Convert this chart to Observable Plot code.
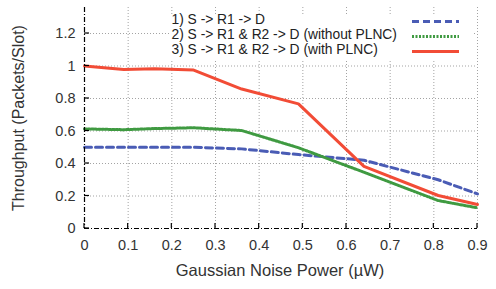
<!DOCTYPE html>
<html>
<head>
<meta charset="utf-8">
<script src="https://cdn.jsdelivr.net/npm/d3@7"></script>
<script src="https://cdn.jsdelivr.net/npm/@observablehq/plot@0.6"></script>
<style>
  html, body { margin: 0; padding: 0; background: #fff; }
  svg { font-family: "Liberation Sans", Arial, sans-serif; }
</style>
</head>
<body>
<div id="chart"></div>
<script>
const noisePower = [0, 0.09, 0.16, 0.25, 0.36, 0.49, 0.64, 0.81, 0.9];
const seriesNames = [
  "1) S -> R1 -> D",
  "2) S -> R1 & R2 -> D (without PLNC)",
  "3) S -> R1 & R2 -> D (with PLNC)"
];
const direct      = [0.5, 0.5, 0.5, 0.5, 0.49, 0.455, 0.42, 0.30, 0.213];
const withoutPLNC = [0.613, 0.608, 0.615, 0.62, 0.603, 0.497, 0.346, 0.172, 0.127];
const withPLNC    = [1.0, 0.978, 0.983, 0.975, 0.858, 0.767, 0.382, 0.203, 0.148];
const xTicks = [0, 0.1, 0.2, 0.3, 0.4, 0.5, 0.6, 0.7, 0.8, 0.9];
const yTicks = [0, 0.2, 0.4, 0.6, 0.8, 1, 1.2];

const colors = ["#4a5cb5", "#3f9a41", "#f24c36"];
const dashes = ["7,4", "2,1.5", null];

const values = [direct, withoutPLNC, withPLNC];
const rows = [];
values.forEach((arr, s) => arr.forEach((v, i) => rows.push({series: seriesNames[s], x: noisePower[i], y: v, s})));

const lineMarks = values.map((arr, s) =>
  Plot.line(rows.filter(r => r.s === s), {
    x: "x", y: "y", stroke: colors[s], strokeWidth: 3,
    strokeDasharray: dashes[s] || undefined, curve: "linear"
  })
);

const fmt = d => String(+d.toFixed(1));

const plot = Plot.plot({
  width: 496,
  height: 289,
  marginLeft: 84,
  marginRight: 19,
  marginTop: 7,
  marginBottom: 61,
  style: {fontFamily: "'Liberation Sans', Arial, sans-serif", fontSize: "14px", color: "#333", background: "#fff"},
  x: {domain: [0, 0.9]},
  y: {domain: [0, 1.36]},
  marks: [
    Plot.gridX(xTicks.slice(1), {stroke: "#999", strokeOpacity: 0.9, strokeDasharray: "1,2"}),
    Plot.gridY(yTicks.slice(1), {stroke: "#999", strokeOpacity: 0.9, strokeDasharray: "1,2"}),
    ...lineMarks,
    Plot.ruleX([0], {stroke: "#000", strokeDasharray: "5,2,1,2", strokeWidth: 1.2}),
    Plot.ruleY([0], {stroke: "#000", strokeDasharray: "5,2,1,2", strokeWidth: 1.2}),
    Plot.axisX(xTicks, {tickSize: 0, tickPadding: 11, tickFormat: fmt, label: null, fontSize: 14.5, fill: "#333"}),
    Plot.axisY(yTicks, {tickSize: 0, tickPadding: 9, tickFormat: fmt, label: null, fontSize: 14.5, fill: "#333"})
  ]
});

document.getElementById("chart").appendChild(plot);

const svg = d3.select(plot);
const sx = plot.scale("x"), sy = plot.scale("y");
const y0 = sy.apply(0), x0 = sx.apply(0);

// inward ticks
const tg = svg.append("g").attr("stroke", "#000").attr("stroke-width", 1.2);
xTicks.forEach(t => {
  const px = sx.apply(t);
  tg.append("line").attr("x1", px).attr("x2", px).attr("y1", y0).attr("y2", y0 - 5);
});
yTicks.forEach(t => {
  const py = sy.apply(t);
  tg.append("line").attr("x1", x0).attr("x2", x0 + 5).attr("y1", py).attr("y2", py);
});

// axis titles
svg.append("text")
  .attr("x", 280)
  .attr("y", 272)
  .attr("text-anchor", "middle")
  .attr("dominant-baseline", "middle")
  .attr("font-size", 16.5)
  .attr("fill", "#333")
  .text("Gaussian Noise Power (µW)");

svg.append("text")
  .attr("transform", `translate(20,118) rotate(-90)`)
  .attr("text-anchor", "middle")
  .attr("dominant-baseline", "middle")
  .attr("font-size", 16)
  .attr("fill", "#333")
  .text("Throughput (Packets/Slot)");

// legend
const lg = svg.append("g");
lg.append("rect").attr("x", 171).attr("y", 14).attr("width", 303).attr("height", 47).attr("fill", "#fff");
const rowY = [20.5, 35.5, 50.5];
seriesNames.forEach((name, i) => {
  lg.append("text")
    .attr("x", 171.5).attr("y", rowY[i])
    .attr("text-anchor", "start")
    .attr("dominant-baseline", "middle")
    .attr("font-size", 13.8)
    .attr("fill", "#222")
    .text(name);
  lg.append("line")
    .attr("x1", 412).attr("x2", 459).attr("y1", rowY[i] + 1).attr("y2", rowY[i] + 1)
    .attr("stroke", colors[i]).attr("stroke-width", 3)
    .attr("stroke-dasharray", dashes[i]);
});
</script>
</body>
</html>
